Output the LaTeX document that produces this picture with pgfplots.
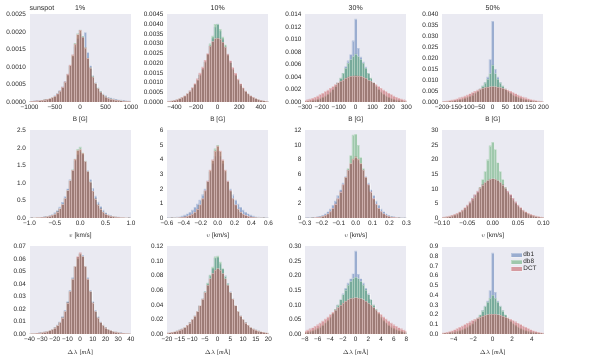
\documentclass[border=0pt]{standalone}
\usepackage{fontspec}
\setmainfont{Liberation Sans}
\newfontfamily\serif{Liberation Serif}
\usepackage{pgfplots}
\usepackage{pgfplotstable}
\pgfplotsset{compat=1.18}

\definecolor{bgc}{HTML}{EAEAF2}
\definecolor{cb}{HTML}{4C72B0}
\definecolor{cg}{HTML}{55A868}
\definecolor{cr}{HTML}{C44E52}
\definecolor{tc}{HTML}{262626}

% histogram tables: i = bin index, b = db1, g = db8, r = DCT
% row 1 heights in units of 1e-4 (10%, 1%) and 1e-3 (30%, 50%)
\pgfplotstableread{
i b g r
-20 0.22 0.20 0.20
-19 0.27 0.24 0.25
-18 0.32 0.29 0.30
-17 0.38 0.35 0.36
-16 0.45 0.43 0.44
-15 0.55 0.53 0.54
-14 0.68 0.65 0.66
-13 0.85 0.80 0.82
-12 1.05 1.00 1.00
-11 1.35 1.30 1.30
-10 1.80 1.70 1.70
-9 2.50 2.30 2.40
-8 3.30 3.10 3.20
-7 4.40 4.20 4.30
-6 5.90 5.70 5.80
-5 7.90 7.80 8.00
-4 10.4 10.4 10.6
-3 13.0 13.4 13.5
-2 15.8 16.8 16.6
-1 18.2 19.5 19.3
0 19.6 20.6 20.5
1 18.8 18.8 18.5
2 19.9 15.6 15.5
3 14.2 12.6 12.5
4 10.4 9.9 9.8
5 7.6 7.4 7.2
6 5.5 5.4 5.3
7 4.1 4.0 3.9
8 3.1 3.0 2.9
9 2.4 2.2 2.1
10 1.8 1.6 1.5
11 1.4 1.2 1.15
12 1.15 0.95 0.90
13 0.95 0.78 0.75
14 0.80 0.64 0.62
15 0.70 0.52 0.50
16 0.60 0.43 0.42
17 0.50 0.35 0.34
18 0.40 0.29 0.28
19 0.30 0.24 0.24
20 0.25 0.20 0.20
}\tabA

\pgfplotstableread{
i b g r
-20 0.35 0.35 0.35
-19 0.5 0.5 0.5
-18 0.7 0.7 0.7
-17 0.95 0.95 0.95
-16 1.3 1.3 1.3
-15 1.8 1.8 1.8
-14 2.4 2.4 2.5
-13 3.2 3.2 3.3
-12 4.3 4.3 4.4
-11 5.7 5.6 5.8
-10 7.2 7.1 7.5
-9 9.1 9.0 9.6
-8 11.4 11.3 12.0
-7 14.1 14.0 15.0
-6 17.2 17.0 18.0
-5 20.8 20.5 21.5
-4 24.8 24.5 25.0
-3 29.0 30.0 28.8
-2 33.0 34.0 31.2
-1 38.5 40.0 32.6
0 40.2 40.0 33.0
1 36.5 37.5 32.4
2 32.5 33.5 30.8
3 28.6 29.5 28.3
4 24.6 24.3 24.8
5 20.6 20.3 21.3
6 17.0 16.8 17.8
7 14.0 13.8 14.8
8 11.3 11.2 11.9
9 9.0 8.9 9.5
10 7.1 7.0 7.4
11 5.6 5.5 5.7
12 4.3 4.2 4.3
13 3.2 3.2 3.3
14 2.4 2.4 2.5
15 1.8 1.8 1.8
16 1.3 1.3 1.3
17 0.95 0.95 0.95
18 0.7 0.7 0.7
19 0.5 0.5 0.5
20 0.35 0.35 0.35
}\tabB

\pgfplotstableread{
i b g r
-20 0.10 0.11 0.27
-19 0.14 0.15 0.36
-18 0.19 0.20 0.48
-17 0.25 0.26 0.62
-16 0.33 0.34 0.78
-15 0.43 0.44 0.98
-14 0.57 0.58 1.20
-13 0.75 0.76 1.42
-12 0.97 0.98 1.68
-11 1.25 1.25 1.95
-10 1.60 1.60 2.20
-9 2.00 2.00 2.50
-8 2.50 2.50 2.80
-7 3.10 3.10 3.10
-6 3.80 3.85 3.35
-5 4.60 4.60 3.55
-4 5.70 5.40 3.80
-3 6.60 6.20 4.00
-2 7.60 6.80 4.12
-1 9.80 7.30 4.18
0 13.3 7.70 4.20
1 8.60 7.30 4.18
2 7.20 6.80 4.12
3 6.40 6.20 4.00
4 5.60 5.40 3.80
5 4.60 4.60 3.55
6 3.80 3.85 3.35
7 3.10 3.10 3.10
8 2.50 2.50 2.80
9 2.00 2.00 2.50
10 1.60 1.60 2.20
11 1.25 1.25 1.95
12 0.97 0.98 1.68
13 0.75 0.76 1.42
14 0.57 0.58 1.20
15 0.43 0.44 0.98
16 0.33 0.34 0.78
17 0.25 0.26 0.62
18 0.19 0.20 0.48
19 0.14 0.15 0.36
20 0.10 0.11 0.27
}\tabC

\pgfplotstableread{
i b g r
-20 0.16 0.17 0.28
-19 0.22 0.23 0.39
-18 0.30 0.31 0.53
-17 0.39 0.41 0.72
-16 0.50 0.53 0.95
-15 0.65 0.68 1.22
-14 0.83 0.87 1.55
-13 1.05 1.10 1.95
-12 1.35 1.40 2.35
-11 1.70 1.75 2.80
-10 2.10 2.20 3.30
-9 2.60 2.70 3.85
-8 3.20 3.30 4.40
-7 4.00 4.00 5.00
-6 4.90 4.90 5.50
-5 6.00 6.00 6.00
-4 7.40 7.40 6.40
-3 9.00 8.80 6.70
-2 11.5 10.5 6.90
-1 19.5 13.0 7.05
0 37.0 17.0 7.10
1 15.0 13.0 7.05
2 11.5 10.5 6.90
3 9.00 8.80 6.70
4 7.40 7.40 6.40
5 6.00 6.00 6.00
6 4.90 4.90 5.50
7 4.00 4.00 5.00
8 3.20 3.30 4.40
9 2.60 2.70 3.85
10 2.10 2.20 3.30
11 1.70 1.75 2.80
12 1.35 1.40 2.35
13 1.05 1.10 1.95
14 0.83 0.87 1.55
15 0.65 0.68 1.22
16 0.50 0.53 0.95
17 0.39 0.41 0.72
18 0.30 0.31 0.53
19 0.22 0.23 0.39
20 0.16 0.17 0.28
}\tabD

\pgfplotstableread{
i b g r
-20 0.007 0.006 0.006
-19 0.009 0.008 0.008
-18 0.012 0.011 0.011
-17 0.016 0.015 0.015
-16 0.021 0.020 0.020
-15 0.028 0.026 0.026
-14 0.038 0.034 0.034
-13 0.052 0.045 0.045
-12 0.072 0.060 0.060
-11 0.100 0.085 0.085
-10 0.150 0.120 0.120
-9 0.220 0.180 0.180
-8 0.320 0.270 0.270
-7 0.450 0.390 0.390
-6 0.620 0.560 0.560
-5 0.840 0.790 0.790
-4 1.100 1.070 1.070
-3 1.370 1.380 1.370
-2 1.640 1.690 1.680
-1 1.820 1.970 1.930
0 1.900 2.030 1.960
1 1.820 1.870 1.850
2 1.620 1.630 1.620
3 1.360 1.340 1.330
4 1.100 1.040 1.030
5 0.850 0.770 0.770
6 0.630 0.550 0.550
7 0.460 0.380 0.380
8 0.330 0.265 0.265
9 0.230 0.175 0.175
10 0.155 0.118 0.118
11 0.105 0.084 0.084
12 0.074 0.060 0.060
13 0.053 0.045 0.045
14 0.039 0.034 0.034
15 0.029 0.026 0.026
16 0.021 0.020 0.020
17 0.016 0.015 0.015
18 0.012 0.011 0.011
19 0.009 0.008 0.008
20 0.007 0.006 0.006
}\tabE

\pgfplotstableread{
i b g r
-20 0.017 0.009 0.010
-19 0.025 0.012 0.013
-18 0.035 0.017 0.018
-17 0.050 0.023 0.024
-16 0.070 0.032 0.033
-15 0.100 0.043 0.045
-14 0.150 0.058 0.060
-13 0.210 0.085 0.090
-12 0.300 0.120 0.130
-11 0.410 0.180 0.190
-10 0.550 0.270 0.280
-9 0.740 0.410 0.420
-8 0.970 0.600 0.620
-7 1.250 0.900 0.920
-6 1.600 1.320 1.350
-5 2.000 1.850 1.900
-4 2.550 2.500 2.550
-3 3.150 3.250 3.300
-2 3.750 3.950 4.000
-1 4.250 4.750 4.600
0 4.600 5.000 4.950
1 4.250 4.550 4.600
2 3.750 3.950 4.000
3 3.150 3.250 3.300
4 2.550 2.500 2.550
5 2.000 1.850 1.900
6 1.600 1.320 1.350
7 1.250 0.900 0.920
8 0.970 0.600 0.620
9 0.740 0.410 0.420
10 0.550 0.270 0.280
11 0.410 0.180 0.190
12 0.300 0.120 0.130
13 0.210 0.085 0.090
14 0.150 0.058 0.060
15 0.100 0.043 0.045
16 0.070 0.032 0.033
17 0.050 0.023 0.024
18 0.035 0.017 0.018
19 0.025 0.012 0.013
20 0.017 0.009 0.010
}\tabF

\pgfplotstableread{
i b g r
-20 0.023 0.012 0.013
-19 0.035 0.018 0.020
-18 0.050 0.028 0.030
-17 0.080 0.042 0.045
-16 0.120 0.065 0.070
-15 0.180 0.100 0.110
-14 0.270 0.160 0.170
-13 0.400 0.240 0.260
-12 0.600 0.370 0.400
-11 0.880 0.560 0.600
-10 1.250 0.850 0.900
-9 1.750 1.300 1.350
-8 2.350 1.850 1.950
-7 3.100 2.600 2.700
-6 3.900 3.500 3.600
-5 4.800 4.500 4.600
-4 5.700 5.600 5.600
-3 6.600 6.800 6.600
-2 7.400 8.600 7.500
-1 7.900 11.40 8.100
0 8.200 11.50 8.400
1 7.900 10.00 8.100
2 7.400 8.300 7.500
3 6.600 6.800 6.600
4 5.700 5.600 5.600
5 4.800 4.500 4.600
6 3.900 3.500 3.600
7 3.100 2.600 2.700
8 2.350 1.850 1.950
9 1.750 1.300 1.350
10 1.250 0.850 0.900
11 0.880 0.560 0.600
12 0.600 0.370 0.400
13 0.400 0.240 0.260
14 0.270 0.160 0.170
15 0.180 0.100 0.110
16 0.120 0.065 0.070
17 0.080 0.042 0.045
18 0.050 0.028 0.030
19 0.035 0.018 0.020
20 0.023 0.012 0.013
}\tabG

\pgfplotstableread{
i b g r
-20 0.17 0.21 0.26
-19 0.25 0.30 0.37
-18 0.35 0.41 0.52
-17 0.50 0.57 0.72
-16 0.70 0.78 0.98
-15 0.98 1.05 1.30
-14 1.35 1.40 1.70
-13 1.85 1.90 2.20
-12 2.50 2.50 2.80
-11 3.30 3.20 3.60
-10 4.30 4.00 4.50
-9 5.40 5.00 5.60
-8 6.60 6.10 6.80
-7 7.90 7.30 8.10
-6 9.10 8.70 9.30
-5 10.3 10.6 10.4
-4 11.4 13.2 11.4
-3 12.3 16.0 12.2
-2 13.0 20.0 12.9
-1 13.4 24.8 13.3
0 13.6 26.0 13.5
1 13.4 23.5 13.3
2 13.0 19.0 12.9
3 12.3 16.0 12.2
4 11.4 13.2 11.4
5 10.3 10.6 10.4
6 9.10 8.70 9.30
7 7.90 7.30 8.10
8 6.60 6.10 6.80
9 5.40 5.00 5.60
10 4.30 4.00 4.50
11 3.30 3.20 3.60
12 2.50 2.50 2.80
13 1.85 1.90 2.20
14 1.35 1.40 1.70
15 0.98 1.05 1.30
16 0.70 0.78 0.98
17 0.50 0.57 0.72
18 0.35 0.41 0.52
19 0.25 0.30 0.37
20 0.17 0.21 0.26
}\tabH

\pgfplotstableread{
i b g r
-20 0.00034 0.00032 0.00032
-19 0.00044 0.00042 0.00042
-18 0.00058 0.00055 0.00055
-17 0.00075 0.0007 0.0007
-16 0.0010 0.0009 0.0009
-15 0.0013 0.0012 0.0012
-14 0.0017 0.0016 0.0016
-13 0.0022 0.0021 0.0021
-12 0.0029 0.0028 0.0028
-11 0.0039 0.0037 0.0037
-10 0.0053 0.0050 0.0050
-9 0.0072 0.0068 0.0068
-8 0.0099 0.0093 0.0093
-7 0.0138 0.0130 0.0130
-6 0.0190 0.0180 0.0180
-5 0.0260 0.0250 0.0250
-4 0.0350 0.0340 0.0340
-3 0.0450 0.0440 0.0440
-2 0.0540 0.0540 0.0540
-1 0.0610 0.0610 0.0620
0 0.0640 0.0640 0.0650
1 0.0630 0.0620 0.0620
2 0.0540 0.0540 0.0540
3 0.0450 0.0440 0.0440
4 0.0350 0.0340 0.0340
5 0.0260 0.0250 0.0250
6 0.0190 0.0180 0.0180
7 0.0138 0.0130 0.0130
8 0.0099 0.0093 0.0093
9 0.0072 0.0068 0.0068
10 0.0053 0.0050 0.0050
11 0.0039 0.0037 0.0037
12 0.0029 0.0028 0.0028
13 0.0022 0.0021 0.0021
14 0.0017 0.0016 0.0016
15 0.0013 0.0012 0.0012
16 0.0010 0.0009 0.0009
17 0.00075 0.0007 0.0007
18 0.00058 0.00055 0.00055
19 0.00044 0.00042 0.00042
20 0.00034 0.00032 0.00032
}\tabI

\pgfplotstableread{
i b g r
-20 0.0016 0.0016 0.0016
-19 0.0020 0.0020 0.0020
-18 0.0026 0.0026 0.0026
-17 0.0033 0.0033 0.0033
-16 0.0042 0.0042 0.0042
-15 0.0055 0.0055 0.0055
-14 0.0071 0.0071 0.0071
-13 0.0092 0.0092 0.0092
-12 0.0120 0.0120 0.0120
-11 0.0155 0.0155 0.0155
-10 0.0200 0.0200 0.0200
-9 0.0250 0.0250 0.0250
-8 0.0310 0.0310 0.0310
-7 0.0390 0.0390 0.0390
-6 0.0480 0.0480 0.0480
-5 0.0580 0.0580 0.0570
-4 0.0690 0.0700 0.0670
-3 0.0800 0.0810 0.0760
-2 0.0900 0.0920 0.0830
-1 0.1040 0.1060 0.0880
0 0.1050 0.1070 0.0900
1 0.0960 0.0990 0.0880
2 0.0890 0.0900 0.0830
3 0.0800 0.0790 0.0760
4 0.0690 0.0690 0.0670
5 0.0580 0.0570 0.0570
6 0.0480 0.0480 0.0480
7 0.0390 0.0390 0.0390
8 0.0310 0.0310 0.0310
9 0.0250 0.0250 0.0250
10 0.0200 0.0200 0.0200
11 0.0155 0.0155 0.0155
12 0.0120 0.0120 0.0120
13 0.0092 0.0092 0.0092
14 0.0071 0.0071 0.0071
15 0.0055 0.0055 0.0055
16 0.0042 0.0042 0.0042
17 0.0033 0.0033 0.0033
18 0.0026 0.0026 0.0026
19 0.0020 0.0020 0.0020
20 0.0016 0.0016 0.0016
}\tabJ

\pgfplotstableread{
i b g r
-20 0.005 0.0056 0.011
-19 0.0065 0.0073 0.014
-18 0.0085 0.0095 0.018
-17 0.011 0.012 0.022
-16 0.014 0.016 0.027
-15 0.018 0.020 0.032
-14 0.023 0.025 0.038
-13 0.029 0.031 0.045
-12 0.036 0.039 0.052
-11 0.045 0.048 0.059
-10 0.056 0.059 0.067
-9 0.069 0.071 0.075
-8 0.084 0.085 0.083
-7 0.100 0.100 0.091
-6 0.119 0.118 0.099
-5 0.138 0.135 0.107
-4 0.157 0.152 0.113
-3 0.175 0.168 0.118
-2 0.190 0.180 0.122
-1 0.207 0.190 0.124
0 0.285 0.195 0.125
1 0.205 0.190 0.124
2 0.190 0.180 0.122
3 0.175 0.168 0.118
4 0.157 0.152 0.113
5 0.138 0.135 0.107
6 0.119 0.118 0.099
7 0.100 0.100 0.091
8 0.084 0.085 0.083
9 0.069 0.071 0.075
10 0.056 0.059 0.067
11 0.045 0.048 0.059
12 0.036 0.039 0.052
13 0.029 0.031 0.045
14 0.023 0.025 0.038
15 0.018 0.020 0.032
16 0.014 0.016 0.027
17 0.011 0.012 0.022
18 0.0085 0.0095 0.018
19 0.0065 0.0073 0.014
20 0.005 0.0056 0.011
}\tabK

\pgfplotstableread{
i b g r
-20 0.006 0.0065 0.011
-19 0.008 0.0085 0.015
-18 0.010 0.011 0.020
-17 0.013 0.014 0.027
-16 0.016 0.018 0.035
-15 0.021 0.023 0.045
-14 0.027 0.029 0.057
-13 0.034 0.037 0.071
-12 0.043 0.047 0.084
-11 0.054 0.059 0.098
-10 0.068 0.073 0.112
-9 0.085 0.090 0.126
-8 0.105 0.110 0.140
-7 0.130 0.135 0.153
-6 0.160 0.165 0.165
-5 0.195 0.200 0.176
-4 0.240 0.240 0.186
-3 0.290 0.285 0.194
-2 0.340 0.330 0.200
-1 0.450 0.370 0.204
0 0.835 0.400 0.205
1 0.430 0.370 0.204
2 0.340 0.330 0.200
3 0.290 0.285 0.194
4 0.240 0.240 0.186
5 0.195 0.200 0.176
6 0.160 0.165 0.165
7 0.130 0.135 0.153
8 0.105 0.110 0.140
9 0.085 0.090 0.126
10 0.068 0.073 0.112
11 0.054 0.059 0.098
12 0.043 0.047 0.084
13 0.034 0.037 0.071
14 0.027 0.029 0.057
15 0.021 0.023 0.045
16 0.016 0.018 0.035
17 0.013 0.014 0.027
18 0.010 0.011 0.020
19 0.008 0.0085 0.015
20 0.006 0.0065 0.011
}\tabL

\pgfplotsset{
  panel/.style={
    scale only axis, width=101.5pt, height=87.5pt, anchor=south west,
    axis background/.style={fill=bgc}, axis line style={draw=none},
    major tick length=0pt, enlargelimits=false, ymin=0,
    scaled x ticks=false, scaled y ticks=false, clip mode=individual,
    tick label style={font=\fontsize{6.4}{7}\selectfont, text=tc},
    xlabel style={font=\fontsize{6.4}{7}\selectfont, text=tc},
    title style={font=\fontsize{7}{8}\selectfont, text=tc, at={(0.5,1)},
      anchor=base, yshift=-2.4pt, inner sep=0pt},
  },
  hbar/.style={ybar, bar shift=0pt, bar width=#1, fill opacity=0.5,
    draw=white, draw opacity=0.3, line width=0.3pt,
    legend image code/.code={\fill[##1] (0pt,-2pt) rectangle (11pt,2.5pt);}},
}

% three overlaid histograms of one panel: table, bin width
\newcommand{\hst}[2]{%
  \addplot[hbar=#2, fill=cb] table[x expr=\thisrow{i}*#2, y=b] {#1};
  \addplot[hbar=#2, fill=cg] table[x expr=\thisrow{i}*#2, y=g] {#1};
  \addplot[hbar=#2, fill=cr] table[x expr=\thisrow{i}*#2, y=r] {#1};
}
\newcommand{\dlab}{$\Delta\lambda$ {\serif[\textit{m}Å]}}

\begin{document}
\begin{tikzpicture}
\path[use as bounding box] (0pt,0pt) rectangle (598pt,361pt);

% ---- row 1: B [G]
\begin{axis}[panel, at={(29.5pt,259pt)}, title={1\%},
  xmin=-1000, xmax=1000, ymax=25, xlabel={B [G]},
  xtick={-1000,-500,0,500,1000}, xticklabels={−1000,−500,0,500,1000},
  ytick={0,5,10,15,20,25},
  yticklabels={0.0000,0.0005,0.0010,0.0015,0.0020,0.0025}]
\hst{\tabA}{50}
\node[anchor=base west, inner sep=0pt, font=\fontsize{7}{8}\selectfont, text=tc]
  at ([yshift=3.6pt]rel axis cs:0,1) {sunspot};
\end{axis}

\begin{axis}[panel, at={(167pt,259pt)}, title={10\%},
  xmin=-470, xmax=470, ymax=45, xlabel={B [G]},
  xtick={-400,-200,0,200,400}, xticklabels={−400,−200,0,200,400},
  ytick={0,5,10,15,20,25,30,35,40,45},
  yticklabels={0.0000,0.0005,0.0010,0.0015,0.0020,0.0025,0.0030,0.0035,0.0040,0.0045}]
\hst{\tabB}{23.5}
\end{axis}

\begin{axis}[panel, at={(305pt,259pt)}, title={30\%},
  xmin=-300, xmax=300, ymax=14, xlabel={B [G]},
  xtick={-300,-200,-100,0,100,200,300},
  xticklabels={−300,−200,−100,0,100,200,300},
  ytick={0,2,4,6,8,10,12,14},
  yticklabels={0.000,0.002,0.004,0.006,0.008,0.010,0.012,0.014}]
\hst{\tabC}{15}
\end{axis}

\begin{axis}[panel, at={(442pt,259pt)}, title={50\%},
  xmin=-200, xmax=200, ymax=40, xlabel={B [G]},
  xtick={-200,-150,-100,-50,0,50,100,150,200},
  xticklabels={−200,−150,−100,−50,0,50,100,150,200},
  ytick={0,5,10,15,20,25,30,35,40},
  yticklabels={0.000,0.005,0.010,0.015,0.020,0.025,0.030,0.035,0.040}]
\hst{\tabD}{10}
\end{axis}

% ---- row 2: v [km/s]
\begin{axis}[panel, at={(29.5pt,143pt)},
  xmin=-1, xmax=1, ymax=2.5, xlabel={$v$ [km/s]},
  xtick={-1,-0.5,0,0.5,1}, xticklabels={−1.0,−0.5,0.0,0.5,1.0},
  ytick={0,0.5,1,1.5,2,2.5}, yticklabels={0.0,0.5,1.0,1.5,2.0,2.5}]
\hst{\tabE}{0.05}
\end{axis}

\begin{axis}[panel, at={(167pt,143pt)},
  xmin=-0.6, xmax=0.6, ymax=6, xlabel={$v$ [km/s]},
  xtick={-0.6,-0.4,-0.2,0,0.2,0.4,0.6},
  xticklabels={−0.6,−0.4,−0.2,0.0,0.2,0.4,0.6},
  ytick={0,1,2,3,4,5,6}, yticklabels={0,1,2,3,4,5,6}]
\hst{\tabF}{0.03}
\end{axis}

\begin{axis}[panel, at={(305pt,143pt)},
  xmin=-0.3, xmax=0.3, ymax=12, xlabel={$v$ [km/s]},
  xtick={-0.3,-0.2,-0.1,0,0.1,0.2,0.3},
  xticklabels={−0.3,−0.2,−0.1,0.0,0.1,0.2,0.3},
  ytick={0,2,4,6,8,10,12}, yticklabels={0,2,4,6,8,10,12}]
\hst{\tabG}{0.015}
\end{axis}

\begin{axis}[panel, at={(442pt,143pt)},
  xmin=-0.1, xmax=0.1, ymax=30, xlabel={$v$ [km/s]},
  xtick={-0.1,-0.05,0,0.05,0.1},
  xticklabels={−0.10,−0.05,0.00,0.05,0.10},
  ytick={0,5,10,15,20,25,30}, yticklabels={0,5,10,15,20,25,30}]
\hst{\tabH}{0.005}
\end{axis}

% ---- row 3: line shift
\begin{axis}[panel, at={(29.5pt,27pt)},
  xmin=-40, xmax=40, ymax=0.07, xlabel={\dlab},
  xtick={-40,-30,-20,-10,0,10,20,30,40},
  xticklabels={−40,−30,−20,−10,0,10,20,30,40},
  ytick={0,0.01,0.02,0.03,0.04,0.05,0.06,0.07},
  yticklabels={0.00,0.01,0.02,0.03,0.04,0.05,0.06,0.07}]
\hst{\tabI}{2}
\end{axis}

\begin{axis}[panel, at={(167pt,27pt)},
  xmin=-20, xmax=20, ymax=0.12, xlabel={\dlab},
  xtick={-20,-15,-10,-5,0,5,10,15,20},
  xticklabels={−20,−15,−10,−5,0,5,10,15,20},
  ytick={0,0.02,0.04,0.06,0.08,0.1,0.12},
  yticklabels={0.00,0.02,0.04,0.06,0.08,0.10,0.12}]
\hst{\tabJ}{1}
\end{axis}

\begin{axis}[panel, at={(305pt,27pt)},
  xmin=-8, xmax=8, ymax=0.3, xlabel={\dlab},
  xtick={-8,-6,-4,-2,0,2,4,6,8},
  xticklabels={−8,−6,−4,−2,0,2,4,6,8},
  ytick={0,0.05,0.1,0.15,0.2,0.25,0.3},
  yticklabels={0.00,0.05,0.10,0.15,0.20,0.25,0.30}]
\hst{\tabK}{0.4}
\end{axis}

\begin{axis}[panel, at={(442pt,27pt)},
  xmin=-5.2, xmax=5.2, ymax=0.9, xlabel={\dlab},
  xtick={-4,-2,0,2,4}, xticklabels={−4,−2,0,2,4},
  ytick={0,0.1,0.2,0.3,0.4,0.5,0.6,0.7,0.8,0.9},
  yticklabels={0.0,0.1,0.2,0.3,0.4,0.5,0.6,0.7,0.8,0.9},
  legend style={at={(0.975,0.975)}, anchor=north east, draw=none, fill=none,
    font=\fontsize{6.4}{7}\selectfont, text=tc, row sep=-1.5pt,
    nodes={inner sep=1.2pt}},
  legend cell align=left]
\hst{\tabL}{0.26}
\legend{db1,db8,DCT}
\end{axis}
\end{tikzpicture}
\end{document}
